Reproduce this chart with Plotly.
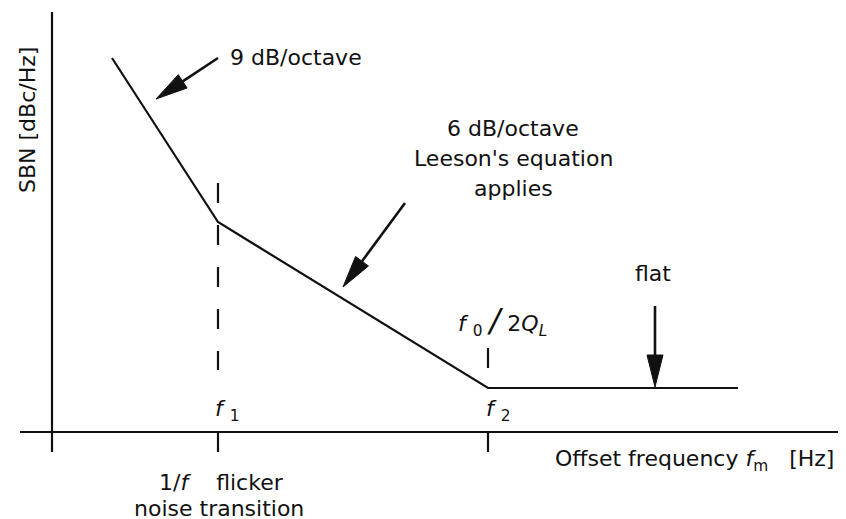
import numpy as np
import plotly.graph_objects as go

# schematic SBN curve, arbitrary units (1 unit = 10 px on both axes)
curve_x = [6.0, 16.6, 43.6, 68.6]
curve_y = [37.4, 21.0, 4.4, 4.4]

f1_x = 16.6
f2_x = 43.6
f1_dash = [24.9, 6.2]      # dashed marker above f1
f2_dash = [8.4, 6.4]       # short marker above f2

# arrows: (tail, tip)
arrows = [
    ((16.6, 37.4), (10.4, 33.3)),   # 9 dB/octave
    ((35.3, 22.9), (29.1, 14.5)),   # 6 dB/octave
    ((60.3, 12.6), (60.3, 4.5)),    # flat
]

FONT = "DejaVu Sans"
INK = "#111111"


def line(xs, ys, width=2.2, dash=None):
    return go.Scatter(x=xs, y=ys, mode="lines", hoverinfo="skip",
                      line=dict(color=INK, width=width, dash=dash))


def arrow_traces(tail, tip, head_len=3.2, head_w=1.6):
    tail = np.array(tail)
    tip = np.array(tip)
    d = tip - tail
    u = d / np.hypot(*d)
    n = np.array([-u[1], u[0]])
    base = tip - u * head_len
    p1 = base + n * head_w / 2
    p2 = base - n * head_w / 2
    shaft = line([tail[0], base[0]], [tail[1], base[1]], width=2.6)
    head = go.Scatter(x=[tip[0], p1[0], p2[0], tip[0]],
                      y=[tip[1], p1[1], p2[1], tip[1]],
                      mode="lines", fill="toself", fillcolor=INK,
                      line=dict(color=INK, width=1), hoverinfo="skip")
    return [shaft, head]


fig = go.Figure()

# axes drawn by hand
fig.add_trace(line([0, 0], [42.0, -2.0]))
fig.add_trace(line([-3.2, 79.4], [0, 0]))
for tx in [f1_x, f2_x]:
    fig.add_trace(line([tx, tx], [0, -2.0]))

# transition markers
fig.add_trace(line([f1_x, f1_x], f1_dash, dash="20px,22px"))
fig.add_trace(line([f2_x, f2_x], f2_dash))

# the curve
fig.add_trace(line(curve_x, curve_y))

for tail, tip in arrows:
    for t in arrow_traces(tail, tip):
        fig.add_trace(t)


def label(x, y, text, size=22, **kw):
    fig.add_annotation(x=x, y=y, text=text, showarrow=False,
                       font=dict(family=FONT, size=size, color=INK), **kw)


label(17.6, 37.5, "9 dB/octave", xanchor="left")
label(46.1, 30.4, "6 dB/octave")
label(46.1, 27.4, "Leeson's equation")
label(46.1, 24.4, "applies")
label(60.1, 15.9, "flat")
label(45.0, 11.2, "<i>f</i> <sub>0</sub> <span style='font-size:32px'><i>/</i></span> 2<i>Q</i><sub><i>L</i></sub>")
label(17.5, 2.2, "<i>f</i> <sub>1</sub>")
label(44.6, 2.2, "<i>f</i> <sub>2</sub>")
label(50.1, -2.8, "Offset frequency <i>f</i><sub>m</sub>   [Hz]", xanchor="left")
label(16.9, -5.0, "1/<i>f</i>    flicker")
label(16.7, -7.6, "noise transition")
label(-2.5, 31.2, "SBN [dBc/Hz]", textangle=-90)

# page body adds an 8 px margin, so the figure is 8 px smaller than the window
fig.update_layout(
    width=838, height=511,
    margin=dict(l=0, r=0, t=0, b=0),
    plot_bgcolor="white", paper_bgcolor="white",
    showlegend=False,
    xaxis=dict(range=[-4.4, 79.4], visible=False, fixedrange=True),
    yaxis=dict(range=[-8.7, 42.4], visible=False, fixedrange=True),
)

fig.write_html("out.html")
